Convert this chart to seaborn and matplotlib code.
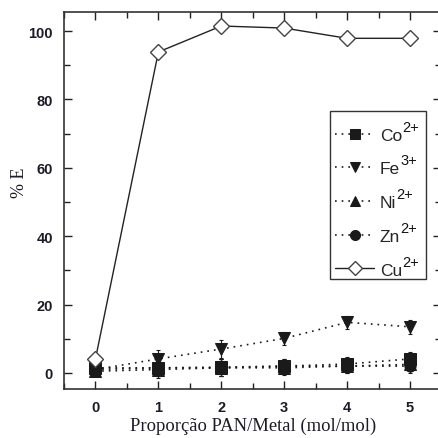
import numpy as np
import matplotlib
matplotlib.use('Agg')
import matplotlib.pyplot as plt
from matplotlib.patches import Rectangle
import pandas as pd
import seaborn as sns

sns.set_theme(style="ticks")
plt.rcParams['font.family'] = ['Liberation Sans', 'DejaVu Sans']

ratio = [0, 1, 2, 3, 4, 5]
co = [1.5, 1.5, 1.7, 2.0, 2.6, 4.1]
fe = [1.0, 4.1, 7.0, 10.1, 14.8, 13.5]
ni = [0.5, 1.0, 1.5, 1.5, 2.0, 2.5]
zn = [1.0, 1.5, 1.5, 2.0, 2.0, 2.0]
cu = [4.1, 93.9, 101.5, 100.9, 97.9, 97.9]
err_metals = [1.5, 2.5, 2.5, 2.0, 2.0, 2.0]
err_cu = [1.0, 1.5, 1.5, 1.5, 1.5, 0.5]

ions = ['Co', 'Fe', 'Ni', 'Zn', 'Cu']
charges = ['2+', '3+', '2+', '2+', '2+']
series = [co, fe, ni, zn, cu]
markers = ['s', 'v', '^', 'o', 'D']

fig = plt.figure(figsize=(4.39, 4.39), dpi=100)
ax = fig.add_axes([64 / 439, 49 / 439, 377.5 / 439, 377 / 439])

for vals, ion, mk in zip(series, ions, markers):
    err = err_cu if mk == 'D' else err_metals
    ax.errorbar(ratio, vals, yerr=err, fmt='none', ecolor='k', elinewidth=0.8,
                capsize=1.5, capthick=0.8, zorder=2)
    if mk == 'D':
        sns.lineplot(x=ratio, y=vals, ax=ax, color='#222222', lw=1.0, marker='D',
                     markersize=8, mfc='white', mec='#444444', mew=1.0,
                     label=ion, zorder=3)
    else:
        sns.lineplot(x=ratio, y=vals, ax=ax, color='k', lw=1.2, dashes=False,
                     linestyle=(0, (1, 3)), marker=mk, markersize=8, mfc='k', mec='k',
                     label=ion, zorder=3)

ax.set_xlim(-0.5, 5.5)
ax.set_ylim(-4.7, 105.6)
ax.set_xticks(ratio)
ax.set_xticks(np.arange(-0.5, 5.6, 0.5), minor=True)
ax.set_yticks([0, 20, 40, 60, 80, 100])
ax.set_yticks(np.arange(0, 105, 10), minor=True)
ax.tick_params(which='both', direction='in', top=True, right=True, color='#222222', width=1.0)
ax.tick_params(which='major', length=6, labelsize=10.5, pad=8)
ax.tick_params(which='minor', length=4)
for t in ax.get_xticklabels() + ax.get_yticklabels():
    t.set_fontweight('bold')
    t.set_color('#1c1c28')
for s in ax.spines.values():
    s.set_color('#333333')
    s.set_linewidth(1.2)

ax.set_xlabel('Proporção PAN/Metal (mol/mol)', family='Liberation Serif', fontsize=13.4,
              color='#1c1c28', labelpad=2)
ax.set_ylabel('% E', family='Liberation Serif', fontsize=13, color='#1c1c28')
ax.yaxis.set_label_coords(-0.095, 0.55)

# legend entries without frame; the frame is drawn as a separate box
leg = ax.legend(loc='upper left', bbox_to_anchor=((332 - 64) / 377.5, 1 - (125 - 13) / 377),
                frameon=False, fontsize=12.5, handlelength=2.2, handletextpad=0.35,
                labelspacing=1.07, borderpad=0.2, borderaxespad=0, markerscale=0.9)
ax.add_patch(Rectangle(((330 - 64) / 377.5, (390 - 280) / 377), 96 / 377.5, 168 / 377,
                       transform=ax.transAxes, fill=False, ec='#333333', lw=1.0, zorder=4))

# superscript charges drawn at near full size, as in the original figure
fig.canvas.draw()
renderer = fig.canvas.get_renderer()
for txt, ch in zip(leg.get_texts(), charges):
    bb = txt.get_window_extent(renderer)
    fig.text((bb.x1 + 0.5) / fig.bbox.width, (bb.y0 + bb.height * 0.6) / fig.bbox.height,
             ch, fontsize=10.5, ha='left', va='bottom', color='#111111')

fig.savefig('out.png', dpi=100)
